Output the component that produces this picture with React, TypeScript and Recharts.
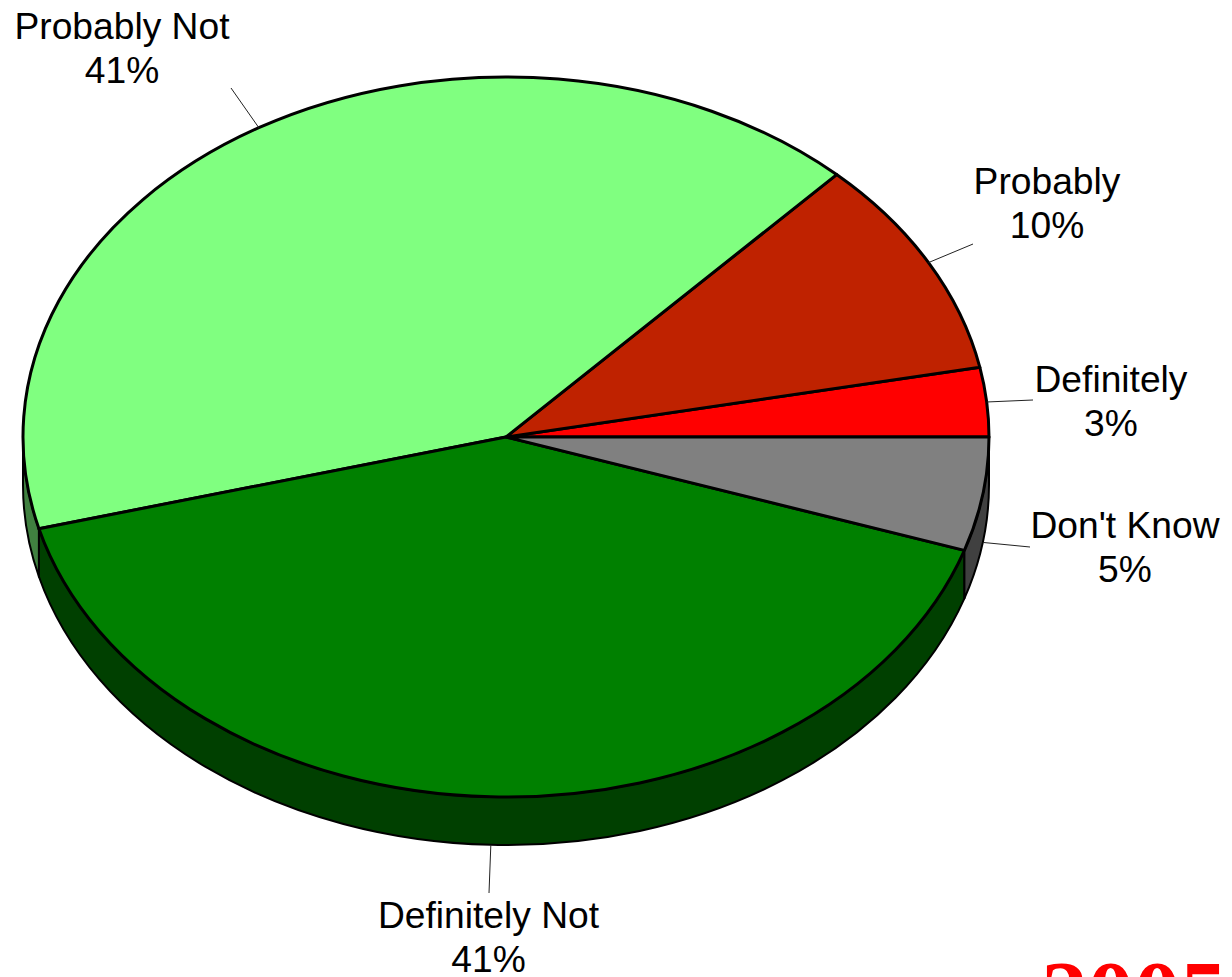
import { Cell, Pie, PieChart } from "recharts";

const CATEGORIES = ["Definitely", "Probably", "Probably Not", "Definitely Not", "Don't Know"];
const VALUES = [3.1, 9.9, 41.1, 40.8, 5.1];

const TOP_COLORS = ["#ff0000", "#bf2200", "#80ff80", "#008000", "#808080"];
const WALL_COLORS = ["#800000", "#601100", "#408040", "#004000", "#404040"];

// where each callout goes: end of leader line, then centre/baseline of its text
const CALLOUTS = [
  { lineX: 1033, lineY: 400, textX: 1111, textY: 392 },
  { lineX: 973, lineY: 244, textX: 1047, textY: 194 },
  { lineX: 231, lineY: 88, textX: 122, textY: 39 },
  { lineX: 489, lineY: 893, textX: 488.5, textY: 928 },
  { lineX: 1030, lineY: 547, textX: 1125, textY: 538 },
];

const WIDTH = 1232;
const HEIGHT = 977;
const CX = 506;
const CY = 437;
const RX = 483;
const RY = 360;
const DEPTH = 48;

const tableData = CATEGORIES.map((name, i) => ({ name, value: VALUES[i] }));

function onRim(angle: number, drop = 0) {
  const rad = (angle * Math.PI) / 180;
  return {
    x: CX + RX * Math.cos(rad),
    y: CY - RY * Math.sin(rad) + drop,
  };
}

// recharts pies are circular, this one is tilted so the sector is drawn on an ellipse
function TiltedSector(props: any) {
  const { startAngle, endAngle, name, fill } = props;
  const idx = CATEGORIES.indexOf(name);
  const a0 = Math.min(startAngle, endAngle);
  const a1 = Math.max(startAngle, endAngle);

  const p0 = onRim(a0);
  const p1 = onRim(a1);
  const large = a1 - a0 > 180 ? 1 : 0;
  const top = `M${CX},${CY} L${p0.x},${p0.y} A${RX},${RY} 0 ${large} 0 ${p1.x},${p1.y} Z`;

  const w0 = Math.max(a0, 180);
  const w1 = Math.min(a1, 360);
  let wall = null;
  if (w0 < w1) {
    const a = onRim(w0);
    const b = onRim(w1);
    const c = onRim(w1, DEPTH);
    const d = onRim(w0, DEPTH);
    wall = (
      <path
        d={`M${a.x},${a.y} A${RX},${RY} 0 0 0 ${b.x},${b.y} L${c.x},${c.y} A${RX},${RY} 0 0 1 ${d.x},${d.y} Z`}
        fill={WALL_COLORS[idx]}
        stroke="#000"
        strokeWidth={2}
        strokeLinejoin="round"
      />
    );
  }

  return (
    <g>
      {wall}
      <path d={top} fill={fill} stroke="#000" strokeWidth={3} strokeLinejoin="round" />
    </g>
  );
}

function Callout(props: any) {
  const { midAngle, name, value } = props;
  const idx = CATEGORIES.indexOf(name);
  const spot = CALLOUTS[idx];
  const lower = midAngle > 180;
  const from = onRim(midAngle, lower ? DEPTH : 0);
  return (
    <g>
      <line x1={from.x} y1={from.y} x2={spot.lineX} y2={spot.lineY} stroke="#222" strokeWidth={1} />
      <text
        x={spot.textX}
        y={spot.textY}
        textAnchor="middle"
        fontFamily="Liberation Sans"
        fontSize={37.2}
        fill="#000"
      >
        {name}
      </text>
      <text
        x={spot.textX}
        y={spot.textY + 44}
        textAnchor="middle"
        fontFamily="Liberation Sans"
        fontSize={37.2}
        fill="#000"
      >
        {Math.round(value)}%
      </text>
    </g>
  );
}

export default function App() {
  return (
    <div
      style={{
        position: "fixed",
        left: 0,
        top: 0,
        width: WIDTH,
        height: HEIGHT,
        overflow: "hidden",
        background: "#fff",
      }}
    >
      <PieChart width={WIDTH} height={HEIGHT} margin={{ top: 0, right: 0, bottom: 0, left: 0 }}>
        <Pie
          data={tableData}
          dataKey="value"
          nameKey="name"
          cx={CX}
          cy={CY}
          innerRadius={0}
          outerRadius={RX}
          startAngle={0}
          endAngle={360}
          shape={TiltedSector}
          label={Callout}
          labelLine={false}
          isAnimationActive={false}
        >
          {CATEGORIES.map((c, i) => (
            <Cell key={c} fill={TOP_COLORS[i]} />
          ))}
        </Pie>
      </PieChart>
      <div
        style={{
          position: "absolute",
          left: 1041,
          top: 944,
          fontFamily: "Liberation Serif",
          fontWeight: "bold",
          fontSize: 93,
          lineHeight: "100px",
          color: "#ff0000",
        }}
      >
        2005
      </div>
    </div>
  );
}
